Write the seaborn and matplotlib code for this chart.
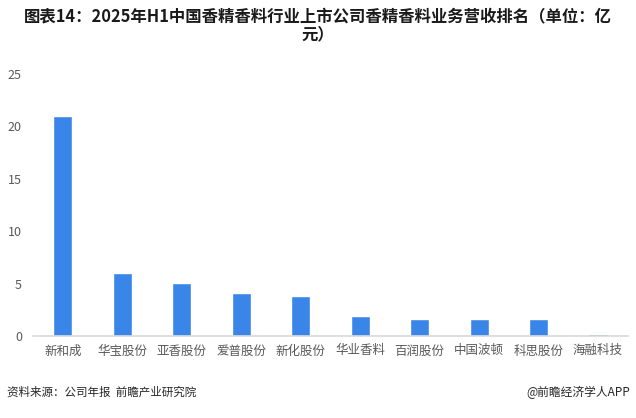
import matplotlib
matplotlib.use("Agg")
import matplotlib.pyplot as plt
import seaborn as sns
import pandas as pd

# 数据
companies = ["新和成", "华宝股份", "亚香股份", "爱普股份", "新化股份",
             "华业香料", "百润股份", "中国波顿", "科思股份", "海融科技"]
revenue = [21.0, 6.0, 5.05, 4.1, 3.82, 1.9, 1.62, 1.62, 1.62, 0.15]
yticks = [0, 5, 10, 15, 20, 25]

df = pd.DataFrame({"company": companies, "revenue": revenue})

sns.set_theme(style="white")
plt.rcParams["font.family"] = ["Noto Sans CJK SC", "DejaVu Sans"]

fig = plt.figure(figsize=(6.36, 4.18), dpi=100)
ax = fig.add_axes([0.052, 0.196, 0.935, 0.627])

sns.barplot(data=df, x="company", y="revenue", color="#3A86E8",
            width=0.32, saturation=1, ax=ax)

ax.set_ylim(0, 25)
ax.set_yticks(yticks)
ax.set_xlim(-0.5, len(companies) - 0.5)
ax.set_xlabel("")
ax.set_ylabel("")
for s in ["top", "right", "left"]:
    ax.spines[s].set_visible(False)
ax.spines["bottom"].set_color("#D9D9D9")
ax.spines["bottom"].set_linewidth(1.2)
ax.tick_params(axis="both", length=0, labelsize=9, colors="#595959", pad=6)
ax.tick_params(axis="y", pad=8)

fig.text(0.5, 0.982, "图表14：2025年H1中国香精香料行业上市公司香精香料业务营收排名（单位：亿\n元）",
         ha="center", va="top", fontsize=11.8, fontweight="bold",
         color="#1a1a1a", linespacing=1.0)

fig.text(0.011, 0.062, "资料来源：公司年报  前瞻产业研究院", ha="left", va="center",
         fontsize=8.3, color="#262626")
fig.text(0.99, 0.062, "@前瞻经济学人APP", ha="right", va="center",
         fontsize=8.5, color="#262626")

fig.savefig("out.png", dpi=100)
